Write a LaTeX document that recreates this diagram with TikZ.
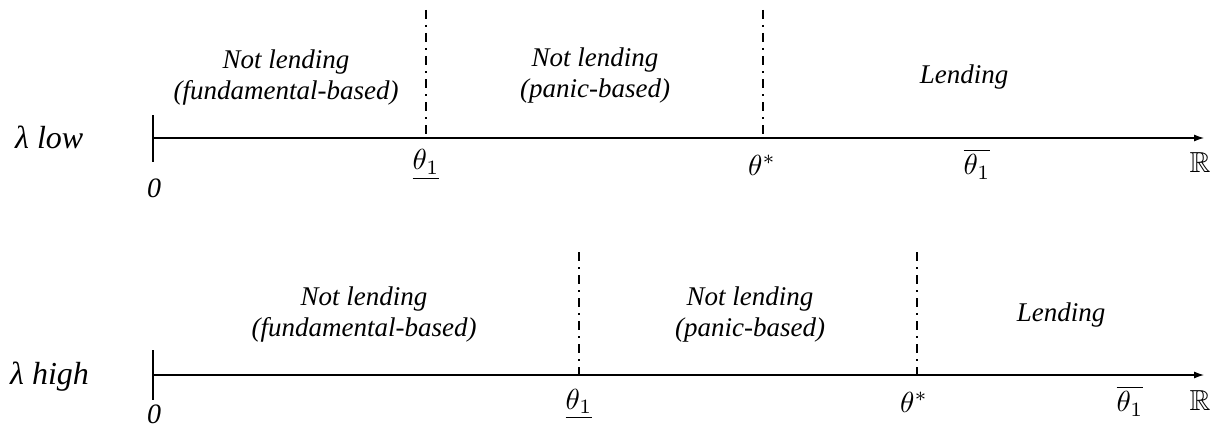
\documentclass[tikz,border=0pt]{standalone}
\usepackage{graphicx}
\usepackage{amssymb}
\usepackage{fontspec}
\setmainfont{Liberation Serif}
\usetikzlibrary{arrows.meta}
\newcommand{\bigmath}[1]{\scalebox{2.9}{$#1$}}
\tikzset{
  axisline/.style={line width=1.1pt, -{Latex[length=10pt,width=7pt]}},
  tickline/.style={line width=1.1pt},
  sepline/.style={line width=1.8pt, dash pattern=on 9pt off 6pt on 2pt off 6pt},
  region/.style={align=center, font=\fontsize{27}{31}\selectfont\itshape, inner sep=0pt},
  rowlabel/.style={font=\fontsize{32}{36}\selectfont\itshape, anchor=base west, inner sep=0pt},
  mlabel/.style={inner sep=0pt},
  zlabel/.style={font=\fontsize{28}{30}\selectfont\itshape, inner sep=0pt}
}
\begin{document}
\begin{tikzpicture}[x=1pt,y=-1pt]
\useasboundingbox (0,0) rectangle (1222,428);
% ---- top row (lambda low)
\coordinate (a0) at (153,138);
\coordinate (a1) at (1204,138);
\coordinate (t0) at (153,115);
\coordinate (t1) at (153,162);
\coordinate (s1top) at (426,10);
\coordinate (s1bot) at (426,138);
\coordinate (s2top) at (763,10);
\coordinate (s2bot) at (763,138);
\draw[axisline] (a0) -- (a1);
\draw[tickline] (t0) -- (t1);
\draw[sepline] (s1top) -- (s1bot);
\draw[sepline] (s2top) -- (s2bot);
\node[rowlabel] (lowlab) at (15,148) {λ low};
\node[zlabel] (z0) at (154,188) {0};
\node[mlabel] (th1a) at (426,165) {\bigmath{\underline{\theta_1}}};
\node[mlabel] (tsa) at (762,165) {\bigmath{\theta^{*}}};
\node[mlabel] (tba) at (977,164) {\bigmath{\overline{\theta_1}}};
\node[mlabel] (Ra) at (1200,163) {\bigmath{\mathbb{R}}};
\node[region] (r1a) at (286,78) {Not lending\\(fundamental-based)};
\node[region] (r2a) at (595,76) {Not lending\\(panic-based)};
\node[region] (r3a) at (964,77) {Lending};
% ---- bottom row (lambda high)
\coordinate (b0) at (153,375);
\coordinate (b1) at (1204,375);
\coordinate (u0) at (153,350);
\coordinate (u1) at (153,400);
\coordinate (q1top) at (579,252);
\coordinate (q1bot) at (579,375);
\coordinate (q2top) at (917,252);
\coordinate (q2bot) at (917,375);
\draw[axisline] (b0) -- (b1);
\draw[tickline] (u0) -- (u1);
\draw[sepline] (q1top) -- (q1bot);
\draw[sepline] (q2top) -- (q2bot);
\node[rowlabel] (highlab) at (10,384) {λ high};
\node[zlabel] (z1) at (154,414) {0};
\node[mlabel] (th1b) at (579,404) {\bigmath{\underline{\theta_1}}};
\node[mlabel] (tsb) at (914,402) {\bigmath{\theta^{*}}};
\node[mlabel] (tbb) at (1130,401) {\bigmath{\overline{\theta_1}}};
\node[mlabel] (Rb) at (1200,401) {\bigmath{\mathbb{R}}};
\node[region] (r1b) at (364,315) {Not lending\\(fundamental-based)};
\node[region] (r2b) at (750,315) {Not lending\\(panic-based)};
\node[region] (r3b) at (1061,315) {Lending};
\end{tikzpicture}
\end{document}
